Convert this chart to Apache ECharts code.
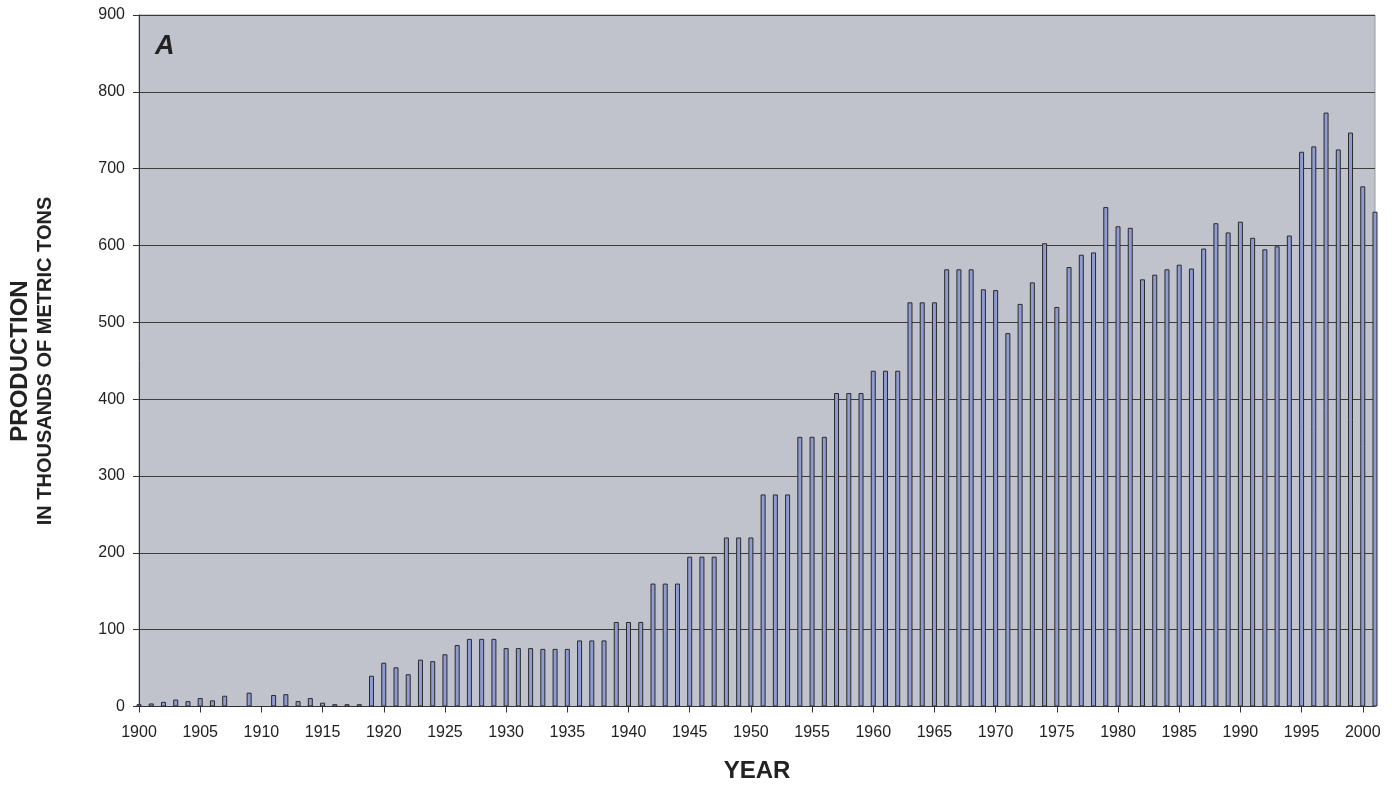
<!DOCTYPE html>
<html>
<head>
<meta charset="utf-8">
<script src="https://cdn.jsdelivr.net/npm/echarts@6/dist/echarts.min.js"></script>
<style>
  html, body { margin: 0; padding: 0; background: #fff; }
  #chart { width: 1398px; height: 785px; }
</style>
</head>
<body>
<div id="chart"></div>
<script>
// Annual production, 1900-2001, thousands of metric tons.
const years = [];
for (let y = 1900; y <= 2001; y++) years.push(String(y));

const production = [
  3, 4, 6, 9, 7, 11, 8, 14, 0, 18,           // 1900-1909
  0, 15, 16, 7, 11, 5, 3, 3, 3, 40,          // 1910-1919
  57, 51, 42, 61, 59, 68, 80, 88, 88, 88,    // 1920-1929
  76, 76, 76, 75, 75, 75, 86, 86, 86, 110,   // 1930-1939
  110, 110, 160, 160, 160, 195, 195, 195, 220, 220,  // 1940-1949
  220, 276, 276, 276, 351, 351, 351, 408, 408, 408,  // 1950-1959
  437, 437, 437, 526, 526, 526, 569, 569, 569, 543,  // 1960-1969
  542, 486, 524, 552, 603, 520, 572, 588, 591, 650,  // 1970-1979
  625, 623, 556, 562, 569, 575, 570, 596, 629, 617,  // 1980-1989
  631, 610, 595, 599, 613, 722, 729, 773, 725, 747,  // 1990-1999
  677, 644                                           // 2000-2001
];

const yTicks = { min: 0, max: 900, step: 100 };

const FONT = '"Liberation Sans", Arial, sans-serif';
const TEXT = '#222';

const chart = echarts.init(document.getElementById('chart'));

chart.setOption({
  animation: false,
  grid: {
    left: 139, right: 23, top: 15, bottom: 78.5,
    show: true, backgroundColor: '#c0c3cb', borderColor: '#9a9a9a', borderWidth: 1,
  },
  xAxis: {
    type: 'category',
    data: years,
    boundaryGap: false,
    axisLine: { lineStyle: { color: '#333', width: 1 } },
    axisTick: { length: 6, interval: i => i % 5 === 0, lineStyle: { color: '#333' } },
    axisLabel: {
      interval: i => i % 5 === 0,
      color: TEXT, fontFamily: FONT, fontSize: 16, margin: 18,
    },
    splitLine: { show: false },
  },
  yAxis: {
    type: 'value',
    min: yTicks.min, max: yTicks.max, interval: yTicks.step,
    axisLine: { show: true, lineStyle: { color: '#333', width: 1 } },
    axisTick: { show: true, length: 6, lineStyle: { color: '#333' } },
    axisLabel: { color: TEXT, fontFamily: FONT, fontSize: 16, margin: 14 },
    splitLine: { lineStyle: { color: '#3c3c3c', width: 1 } },
  },
  series: [{
    type: 'bar',
    data: production,
    barWidth: 5,
    clip: false,
    itemStyle: { color: '#8f9bd1', borderColor: '#2a2a2a', borderWidth: 1 },
  }],
  graphic: [
    {
      type: 'text', left: 155, top: 33,
      style: { text: 'A', font: 'italic bold 27px ' + FONT, fill: '#222' },
    },
    {
      type: 'text', x: 20, y: 361, rotation: Math.PI / 2,
      style: {
        text: 'PRODUCTION', font: 'bold 24px ' + FONT, fill: '#222',
        align: 'center', verticalAlign: 'middle',
      },
    },
    {
      type: 'text', x: 45, y: 361, rotation: Math.PI / 2,
      style: {
        text: 'IN THOUSANDS OF METRIC TONS', font: 'bold 20px ' + FONT, fill: '#222',
        align: 'center', verticalAlign: 'middle',
      },
    },
    {
      type: 'text', x: 757, y: 771,
      style: {
        text: 'YEAR', font: 'bold 24px ' + FONT, fill: '#222',
        align: 'center', verticalAlign: 'middle',
      },
    },
  ],
});
</script>
</body>
</html>
